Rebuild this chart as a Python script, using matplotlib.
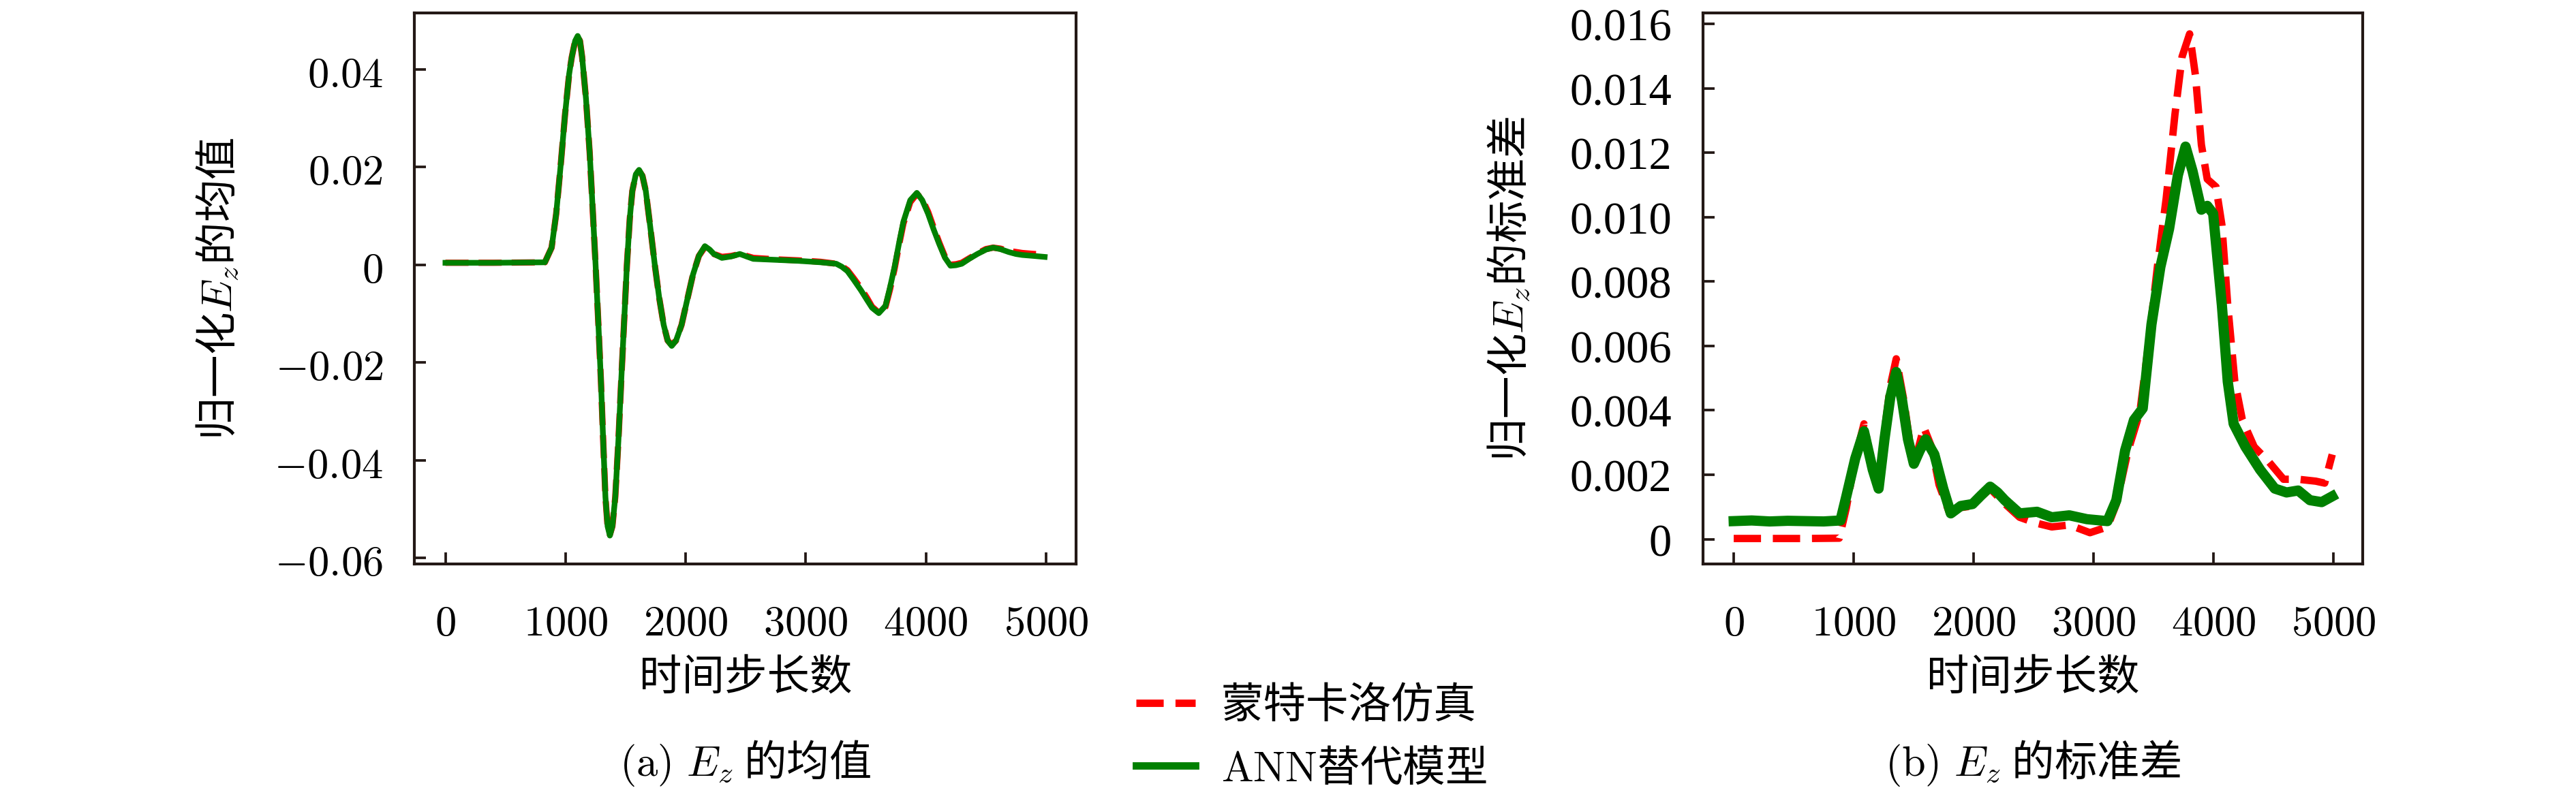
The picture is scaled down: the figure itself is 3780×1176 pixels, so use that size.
import matplotlib
matplotlib.use('Agg')
import matplotlib.pyplot as plt
from matplotlib.lines import Line2D

# 字体：中文用 Noto Sans CJK SC，公式用 cm
plt.rcParams['font.family'] = ['Noto Sans CJK SC', 'DejaVu Sans']
plt.rcParams['mathtext.fontset'] = 'cm'
plt.rcParams['axes.unicode_minus'] = True

# (a) Ez 均值
mean_x = [0, 400, 828, 884, 922, 960, 996, 1030, 1052, 1080, 1101, 1120, 1138, 1170, 1201, 1225,
          1250, 1275, 1295, 1315, 1332, 1350, 1369, 1390, 1414, 1440, 1463, 1490, 1511, 1535, 1556,
          1585, 1612, 1640, 1668, 1705, 1743, 1780, 1817, 1850, 1884, 1920, 1966, 2010, 2060, 2110,
          2160, 2200, 2235, 2302, 2380, 2451, 2563, 2750, 2937, 3123, 3254, 3300, 3347, 3400, 3459,
          3510, 3552, 3608, 3664, 3700, 3739, 3775, 3813, 3870, 3925, 3970, 4019, 4065, 4112, 4160,
          4205, 4250, 4299, 4360, 4429, 4500, 4560, 4620, 4690, 4750, 4802, 4900, 4989]
mean_ann = [0.0004, 0.0004, 0.0005, 0.0035, 0.0104, 0.0205, 0.0308, 0.039, 0.0425, 0.0458, 0.0468,
            0.0458, 0.0425, 0.034, 0.0229, 0.0118, 0.0, -0.013, -0.024, -0.037, -0.0475, -0.0535,
            -0.0554, -0.0535, -0.0475, -0.036, -0.024, -0.0105, 0.0, 0.0095, 0.0151, 0.0185, 0.0194,
            0.0182, 0.0151, 0.0078, 0.0, -0.0068, -0.0123, -0.0155, -0.0166, -0.0155, -0.0123,
            -0.0075, -0.0021, 0.0018, 0.0038, 0.0031, 0.0022, 0.0014, 0.0017, 0.0022, 0.0012, 0.001,
            0.0008, 0.0005, 0.0002, -0.0004, -0.0013, -0.0031, -0.0052, -0.0072, -0.0088, -0.0099,
            -0.0084, -0.0048, -0.0005, 0.0042, 0.0088, 0.0132, 0.0147, 0.0132, 0.0104, 0.0072,
            0.0042, 0.0014, -0.0002, -0.0001, 0.0002, 0.0012, 0.0022, 0.0031, 0.0035, 0.0032,
            0.0026, 0.0022, 0.002, 0.0018, 0.0016]
mean_mc = [0.0004, 0.0004, 0.0005, 0.0035, 0.0104, 0.0205, 0.0308, 0.039, 0.0425, 0.0458, 0.0466,
           0.0458, 0.0425, 0.034, 0.0229, 0.0118, 0.0, -0.013, -0.024, -0.037, -0.0475, -0.0535,
           -0.0552, -0.0535, -0.0475, -0.036, -0.024, -0.0105, 0.0, 0.0095, 0.0151, 0.0185, 0.0192,
           0.0182, 0.0151, 0.0078, 0.0, -0.0068, -0.0123, -0.0155, -0.0164, -0.0155, -0.0123,
           -0.0075, -0.0021, 0.0018, 0.0036, 0.0031, 0.0022, 0.0016, 0.0018, 0.0022, 0.0014, 0.0011,
           0.0009, 0.0006, 0.0002, -0.0003, -0.0011, -0.0028, -0.0048, -0.0068, -0.0086, -0.0098,
           -0.0086, -0.0052, -0.0009, 0.0038, 0.0084, 0.0128, 0.0145, 0.0134, 0.0108, 0.0076,
           0.0045, 0.0016, 0.0, 0.0001, 0.0004, 0.0013, 0.0023, 0.0032, 0.0035, 0.0033,
           0.0028, 0.0026, 0.0024, 0.0022, 0.0021]

# (b) Ez 标准差
std_ann_x = [0, 150, 300, 450, 600, 750, 890, 939, 1013, 1086, 1159, 1208, 1257, 1306, 1355, 1404,
             1453, 1502, 1551, 1600, 1673, 1747, 1810, 1893, 1991, 2060, 2138, 2200, 2260, 2383,
             2529, 2652, 2798, 2945, 3116, 3190, 3263, 3337, 3410, 3483, 3557, 3630, 3703, 3767,
             3826, 3899, 3948, 3997, 4070, 4119, 4168, 4266, 4388, 4511, 4609, 4706, 4804, 4902, 4990]
std_ann = [0.00056, 0.00058, 0.00055, 0.00057, 0.00056, 0.00055, 0.00058, 0.00133, 0.0025, 0.00335,
           0.00216, 0.00157, 0.0031, 0.00442, 0.00519, 0.0043, 0.0031, 0.00234, 0.00275, 0.0031,
           0.00263, 0.00157, 0.0008, 0.00103, 0.00109, 0.00135, 0.00163, 0.00145, 0.00121, 0.0008,
           0.00085, 0.00068, 0.00074, 0.00062, 0.00056, 0.00121, 0.00275, 0.0037, 0.00406, 0.00667,
           0.00845, 0.00964, 0.0113, 0.01219, 0.01142, 0.01023, 0.01035, 0.01011, 0.00726, 0.00489,
           0.00358, 0.00287, 0.00216, 0.00157, 0.00145, 0.00151, 0.00121, 0.00115, 0.00133]
std_mc_x = [0, 300, 600, 880, 939, 1013, 1086, 1159, 1208, 1257, 1306, 1355, 1419, 1478, 1526, 1585,
            1649, 1712, 1795, 1893, 1991, 2060, 2138, 2260, 2383, 2520, 2652, 2798, 2970, 3116,
            3190, 3288, 3386, 3459, 3532, 3606, 3679, 3738, 3801, 3850, 3899, 3948, 4021, 4070,
            4119, 4178, 4241, 4339, 4462, 4584, 4706, 4853, 4927, 4990]
std_mc = [0.00002, 0.00002, 0.00002, 0.00003, 0.00097, 0.0025, 0.00358, 0.00216, 0.00163, 0.00335,
          0.00477, 0.0056, 0.0043, 0.00275, 0.00263, 0.00347, 0.00287, 0.00169, 0.00085, 0.00098,
          0.00103, 0.0013, 0.00157, 0.0011, 0.00068, 0.0005, 0.00038, 0.00044, 0.0002, 0.00038,
          0.00109, 0.00275, 0.00394, 0.00608, 0.00845, 0.01059, 0.0132, 0.01498, 0.01569, 0.01439,
          0.01225, 0.01118, 0.01094, 0.00976, 0.00726, 0.00489, 0.0037, 0.00287, 0.0024, 0.00186,
          0.00186, 0.0018, 0.00174, 0.00263]

x_ticks = [0, 1000, 2000, 3000, 4000, 5000]
x_ticklabels = ['$0$', '$1000$', '$2000$', '$3000$', '$4000$', '$5000$']
mean_yticks = [-0.06, -0.04, -0.02, 0, 0.02, 0.04]
mean_yticklabels = ['$-0.06$', '$-0.04$', '$-0.02$', '$0$', '$0.02$', '$0.04$']
std_yticks = [0, 0.002, 0.004, 0.006, 0.008, 0.010, 0.012, 0.014, 0.016]
std_yticklabels = ['0', '0.002', '0.004', '0.006', '0.008', '0.010', '0.012', '0.014', '0.016']

fs = 15
fig = plt.figure(figsize=(12.6, 3.9233), dpi=300)
ax1 = fig.add_axes([0.1608, 0.2957, 0.2569, 0.6873])
ax2 = fig.add_axes([0.6611, 0.2957, 0.2561, 0.6873])

ax1.plot(mean_x, mean_mc, color='red', ls='--', lw=2.2)
ax1.plot(mean_x, mean_ann, color='green', lw=2.0)
ax2.plot(std_mc_x, std_mc, color='red', ls='--', lw=2.6)
ax2.plot(std_ann_x, std_ann, color='green', lw=3.6)

ax1.set_xlim(-260, 5250)
ax1.set_ylim(-0.0612, 0.0515)
ax2.set_xlim(-256, 5244)
ax2.set_ylim(-0.00077, 0.01634)

for ax in (ax1, ax2):
    ax.set_xticks(x_ticks)
    ax.set_xticklabels(x_ticklabels, fontsize=fs)
    ax.tick_params(direction='in', length=4, width=0.9, top=False, right=False, color='#231815')
    ax.tick_params(axis='x', pad=13)
    for s in ax.spines.values():
        s.set_linewidth(1.0)
        s.set_color('#231815')

ax1.set_yticks(mean_yticks)
ax1.set_yticklabels(mean_yticklabels, fontsize=fs)
ax1.tick_params(axis='y', pad=11)
ax2.set_yticks(std_yticks)
ax2.set_yticklabels(std_yticklabels, fontsize=fs + 1, family='Liberation Serif')
ax2.tick_params(axis='y', pad=11)

# 坐标轴标题与子图说明
fig.text(0.0847, 0.6398, '归一化$E_z$的均值', rotation=90, ha='center', va='center', fontsize=fs)
fig.text(0.586, 0.6398, '归一化$E_z$的标准差', rotation=90, ha='center', va='center', fontsize=fs)
fig.text(0.2894, 0.1538, '时间步长数', ha='center', va='center', fontsize=fs)
fig.text(0.7892, 0.1538, '时间步长数', ha='center', va='center', fontsize=fs)
fig.text(0.2894, 0.0476, r'$\mathrm{(a)}\ E_z$ 的均值', ha='center', va='center', fontsize=fs)
fig.text(0.7892, 0.0476, r'$\mathrm{(b)}\ E_z$ 的标准差', ha='center', va='center', fontsize=fs)

handles = [Line2D([], [], color='red', ls='--', lw=2.6),
           Line2D([], [], color='green', lw=2.6)]
fig.legend(handles, ['蒙特卡洛仿真', r'$\mathrm{ANN}$替代模型'], loc='center',
           bbox_to_anchor=(0.509, 0.0799), frameon=False, fontsize=fs,
           handlelength=1.4, handletextpad=0.6, labelspacing=0.45)

fig.savefig('out.png', dpi=300)
